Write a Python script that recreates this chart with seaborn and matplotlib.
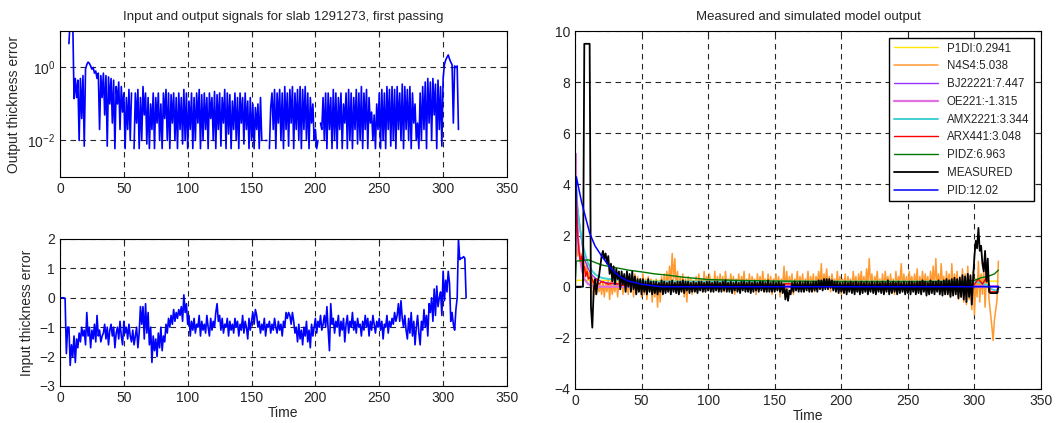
"""Senales de espesor: entrada, salida y comparacion de modelos."""

import matplotlib

matplotlib.use("Agg")
import matplotlib.pyplot as plt
import numpy as np
import seaborn as sns

# --- datos (un valor por unidad de tiempo) ---
input_err = [
    0, 0, 0, 0, -0.02, -1.9, -1.0, -1.0, -2.3, -1.6,
    -2.0, -1.3, -2.2, -1.4, -1.7, -1.2, -1.5, -1.0, -1.3, -1.1,
    -1.6, -0.5, -1.3, -1.0, -1.7, -1.1, -1.4, -0.9, -1.5, -0.6,
    -1.3, -1.1, -1.5, -1.3, -1.2, -0.9, -1.4, -1.0, -1.6, -1.1,
    -0.9, -1.3, -1.0, -1.7, -1.2, -1.0, -1.4, -0.8, -1.3, -1.6,
    -0.8, -1.2, -1.0, -1.4, -0.9, -1.3, -1.5, -1.1, -1.6, -1.3,
    -1.0, -1.7, -1.2, -0.3, -0.9, -0.3, -1.4, -0.2, -1.2, -0.5,
    -1.6, -1.0, -2.2, -1.3, -1.8, -1.4, -2.0, -1.2, -1.7, -1.0,
    -1.8, -1.3, -1.5, -0.9, -1.2, -0.7, -1.0, -0.6, -0.9, -0.4,
    -0.8, -0.5, -0.7, -0.4, -0.6, -0.3, -0.8, 0.1, -0.5, -0.2,
    -0.9, -0.6, -1.3, -0.8, -1.1, -0.7, -1.2, -0.9, -1.0, -0.6,
    -1.3, -0.8, -1.1, -0.9, -1.2, -0.6, -1.0, -1.3, -0.7, -1.1,
    -0.8, -1.0, -0.5, -0.2, -0.8, -0.6, -1.1, -0.7, -1.2, -0.9,
    -1.0, -0.7, -1.3, -0.8, -1.1, -0.9, -1.2, -0.7, -1.0, -0.8,
    -1.3, -0.9, -1.1, -0.6, -1.2, -0.8, -1.0, -1.4, -0.7, -1.1,
    -0.8, -0.5, -0.9, -0.4, -0.6, -1.0, -0.8, -1.2, -0.9, -1.1,
    -0.7, -1.3, -0.9, -1.0, -0.8, -1.2, -0.9, -1.1, -0.7, -1.0,
    -1.2, -0.8, -1.1, -0.9, -1.3, -0.8, -1.0, -0.5, -0.7, -0.5,
    -0.6, -0.9, -0.5, -0.8, -1.2, -1.0, -1.5, -0.9, -1.4, -1.1,
    -1.6, -1.0, -1.3, -0.8, -1.5, -1.1, -1.7, -0.9, -1.3, -1.0,
    -0.7, -1.2, -0.8, -1.0, -0.6, -1.1, -0.9, -0.6, -1.0, -0.3,
    -1.1, -1.8, -0.2, -0.9, -0.7, -1.2, -0.8, -1.0, -0.6, -1.3,
    -0.8, -1.1, -0.7, -1.5, -0.9, -0.6, -1.2, -0.8, -1.0, -0.5,
    -1.1, -0.8, -1.2, -0.7, -1.0, -0.9, -1.3, -0.8, -1.1, -0.6,
    -1.0, -0.7, -1.3, -0.8, -1.1, -0.6, -0.9, -1.2, -0.8, -1.0,
    -0.7, -1.1, -0.8, -1.4, -0.9, -1.0, -0.6, -1.2, -0.8, -1.0,
    -0.7, -0.9, -0.5, -0.8, -0.6, -0.2, -0.8, -0.1, -0.7, -1.0,
    -0.6, -1.1, -1.4, -0.7, -1.2, -0.5, -1.3, -0.8, -1.6, -1.0,
    -0.6, -1.2, -1.6, -0.8, -1.1, -0.4, -1.0, -0.6, -1.3, -0.2,
    -0.5, 0.0, -0.8, 0.3, -0.6, 0.4, -0.3, 0.0, 0.2, -0.6,
    0.9, -0.1, 0.6, 0.2, 0.9, 0.5, -0.8, -0.5, -0.9, -1.1,
    -0.4, 0.0, 2.0, 1.3, 1.35, 1.35, 1.4, 1.35, 0.0,
]

# valor absoluto del error de salida (0 = fuera de la escala log)
output_err = [
    0, 0, 0, 0, 0, 0, 0, 4.5, 20, 20,
    20, 0.14, 0.5, 0.15, 0.45, 0.01, 0.5, 0.04, 0.6, 0.007,
    0.9, 1.2, 1.4, 1.3, 1.1, 0.9, 1.0, 0.7, 0.8, 0.5,
    0.7, 0.02, 0.6, 0.15, 0.7, 0.05, 0.6, 0.007, 0.55, 0.1,
    0.5, 0.03, 0.45, 0.006, 0.3, 0.1, 0.4, 0.02, 0.3, 0.06,
    0.2, 0.006, 0.15, 0.02, 0.25, 0.01, 0.2, 0, 0.006, 0.2,
    0.03, 0.25, 0.006, 0.15, 0.01, 0.3, 0.05, 0.2, 0.008, 0.15,
    0.006, 0.1, 0.02, 0.2, 0.006, 0.15, 0.03, 0.2, 0.01, 0.1,
    0.006, 0.2, 0.04, 0.25, 0.01, 0.2, 0.006, 0.18, 0.03, 0.2,
    0.01, 0.15, 0.006, 0.2, 0.02, 0.15, 0.008, 0.25, 0.01, 0.2,
    0.006, 0.12, 0.02, 0.2, 0.006, 0.15, 0.01, 0.2, 0.03, 0.25,
    0.006, 0.18, 0.01, 0.2, 0.02, 0.15, 0.006, 0.2, 0.04, 0.15,
    0.01, 0.22, 0.006, 0.18, 0.02, 0.2, 0.007, 0.15, 0.03, 0.25,
    0.006, 0.2, 0.015, 0.18, 0.006, 0.12, 0.02, 0.2, 0.01, 0.15,
    0.006, 0.2, 0.03, 0.15, 0.008, 0.2, 0.02, 0.12, 0.006, 0.15,
    0.01, 0.1, 0.006, 0.08, 0.02, 0.1, 0.006, 0.15, 0.01, 0,
    0, 0.01, 0.01, 0, 0.006, 0.08, 0.2, 0.02, 0.25, 0.006,
    0.2, 0.03, 0.25, 0.01, 0.2, 0.006, 0.3, 0.02, 0.2, 0.007,
    0.25, 0.03, 0.3, 0.006, 0.2, 0.02, 0.25, 0.01, 0.3, 0.006,
    0.25, 0.02, 0.3, 0.01, 0.2, 0.006, 0.15, 0.03, 0.1, 0.01,
    0.02, 0.006, 0.01, 0, 0.03, 0.02, 0.15, 0.01, 0.2, 0.006,
    0.2, 0.02, 0.15, 0.006, 0.25, 0.01, 0.2, 0.006, 0.15, 0.02,
    0.2, 0.006, 0.1, 0.03, 0.2, 0.006, 0.25, 0.01, 0.2, 0.006,
    0.15, 0.02, 0.25, 0.008, 0.2, 0.01, 0.3, 0.006, 0.2, 0.02,
    0.25, 0.006, 0.15, 0.03, 0.06, 0.01, 0.05, 0.006, 0.1, 0.02,
    0.2, 0.006, 0.25, 0.01, 0.2, 0.006, 0.3, 0.02, 0.25, 0.007,
    0.3, 0.01, 0.25, 0.006, 0.3, 0.02, 0.2, 0.01, 0.35, 0.006,
    0.3, 0.02, 0.25, 0.01, 0.3, 0.006, 0.2, 0.03, 0.1, 0.01,
    0.03, 0.006, 0.2, 0.01, 0.3, 0.02, 0.4, 0.006, 0.5, 0.03,
    0.4, 0.01, 0.5, 0.05, 0.35, 0.006, 0.45, 0.02, 0.3, 0.007,
    0.5, 1.2, 1.6, 1.9, 2.2, 1.7, 1.4, 1.2, 0.03, 1.1,
    1.0, 1.1, 0.02,
]

measured = [
    0, 0, 0, 0, 0, 0, 0, 9.5, 9.5, 9.5,
    9.5, 9.5, -0.8, -1.6, -0.2, 0.3, -0.3, 0.2, 0.4, 0.8,
    1.2, 1.4, 1.1, 1.3, 0.9, 1.2, 0.5, 0.9, 0.2, 0.8,
    0.1, 0.7, 0.3, 0.6, -0.1, 0.6, 0.1, 0.5, -0.2, 0.6,
    0.0, 0.5, -0.2, 0.6, -0.1, 0.4, -0.3, 0.3, -0.2, 0.3,
    -0.3, 0.3, -0.2, 0.2, -0.3, 0.3, -0.2, 0.2, -0.3, 0.2,
    -0.25, 0.2, -0.3, 0.15, -0.2, 0.25, -0.3, 0.2, -0.25, 0.15,
    -0.2, 0.2, -0.3, 0.25, -0.2, 0.15, -0.25, 0.2, -0.3, 0.2,
    -0.2, 0.25, -0.25, 0.2, -0.15, 0.2, -0.25, 0.15, -0.2, 0.2,
    -0.2, 0.15, -0.25, 0.2, -0.15, 0.2, -0.2, 0.15, -0.2, 0.2,
    -0.15, 0.2, -0.2, 0.15, -0.2, 0.2, -0.15, 0.2, -0.2, 0.15,
    -0.2, 0.2, -0.15, 0.25, -0.2, 0.15, -0.2, 0.2, -0.25, 0.15,
    -0.15, 0.2, -0.2, 0.15, -0.25, 0.2, -0.15, 0.2, -0.2, 0.15,
    -0.2, 0.2, -0.25, 0.15, -0.2, 0.2, -0.15, 0.15, -0.2, 0.2,
    -0.15, 0.2, -0.2, 0.15, -0.2, 0.25, -0.2, 0.15, -0.2, 0.2,
    -0.2, 0.15, -0.15, 0.2, -0.2, 0.15, -0.25, 0.1, -0.5, -0.1,
    -0.55, -0.15, -0.3, 0.15, -0.2, 0.2, -0.15, 0.15, -0.2, 0.2,
    -0.2, 0.15, -0.2, 0.2, -0.15, 0.2, -0.2, 0.15, -0.2, 0.2,
    -0.15, 0.2, -0.2, 0.25, -0.1, 0.25, -0.15, 0.3, -0.1, 0.3,
    -0.1, 0.3, -0.05, 0.25, -0.15, 0.2, -0.2, 0.2, -0.25, 0.15,
    -0.2, 0.15, -0.25, 0.2, -0.3, 0.15, -0.2, 0.2, -0.25, 0.15,
    -0.3, 0.2, -0.2, 0.15, -0.3, 0.2, -0.25, 0.15, -0.2, 0.2,
    -0.3, 0.15, -0.2, 0.2, -0.25, 0.15, -0.3, 0.2, -0.2, 0.15,
    -0.25, 0.2, -0.3, 0.15, -0.2, 0.25, -0.3, 0.15, -0.25, 0.2,
    -0.2, 0.15, -0.3, 0.2, -0.25, 0.15, -0.2, 0.2, -0.3, 0.15,
    -0.25, 0.2, -0.3, 0.2, -0.2, 0.15, -0.3, 0.2, -0.25, 0.2,
    -0.3, 0.25, -0.2, 0.2, -0.35, 0.15, -0.3, 0.25, -0.25, 0.2,
    -0.3, 0.2, -0.2, 0.25, -0.3, 0.2, -0.35, 0.25, -0.3, 0.3,
    -0.3, 0.25, -0.4, 0.3, -0.35, 0.35, -0.3, 0.3, -0.45, 0.35,
    -0.4, 0.45, -0.5, 0.4, -0.6, 0.5, -0.4, 0.45, -0.7, 0.3,
    1.2, 1.8, 1.5, 2.3, 1.4, 1.6, 0.9, 0.6, 1.4, 0.2,
    1.1, -0.2, -0.25, -0.25, -0.25, -0.25, -0.25, -0.25, 0.0,
]

n4s4 = [
    0, 1.8, 1.2, 1.6, 1.0, 1.3, 0.7, 1.0, 0.4, 0.9,
    0.3, 0.6, -0.2, 0.4, -0.4, 0.2, -0.3, 0.3, -0.2, 0.1,
    -0.3, 0.2, -0.4, 0.1, -0.2, 0.3, -0.5, 0.2, -0.3, 0.1,
    -0.2, 0.3, -0.4, 0.2, -0.1, 0.4, -0.3, 0.3, -0.2, 0.2,
    -0.3, 0.4, -0.2, 0.3, -0.4, 0.5, -0.3, 0.4, -0.2, 0.3,
    -0.4, 0.5, -0.3, 0.3, -0.5, 0.4, -0.2, 0.3, -0.6, 0.2,
    -0.4, 0.3, -0.8, 0.2, -0.6, 0.4, -0.3, 0.5, -0.2, 0.6,
    -0.1, 0.8, 0.2, 1.3, 0.3, 1.1, -0.1, 0.6, -0.3, 0.4,
    -0.2, 0.5, -0.4, 0.3, -0.6, 0.4, -0.1, 0.3, -0.3, 0.2,
    -0.1, 0.4, -0.2, 0.5, 0.0, 0.3, -0.2, 0.6, 0.0, 0.4,
    -0.1, 0.5, 0.1, 0.3, -0.2, 0.6, 0.0, 0.4, -0.1, 0.5,
    0.0, 0.4, -0.2, 0.6, 0.1, 0.3, -0.1, 0.5, 0.0, 0.4,
    -0.3, 0.3, 0.0, 0.5, -0.2, 0.4, 0.1, 0.6, -0.1, 0.3,
    0.0, 0.5, -0.2, 0.4, 0.1, 0.3, -0.3, 0.5, 0.0, 0.4,
    -0.1, 0.6, 0.1, 0.3, -0.2, 0.5, 0.0, 0.4, -0.3, 0.3,
    0.1, 0.5, -0.1, 0.4, -0.4, 0.3, 0.0, 0.8, -0.2, 0.6,
    -0.1, 0.4, 0.0, 0.5, -0.3, 0.3, 0.1, 0.6, -0.1, 0.4,
    0.0, 0.5, -0.2, 0.3, 0.1, 0.6, -0.1, 0.4, 0.0, 0.5,
    -0.2, 0.4, 0.1, 0.6, 0.0, 0.9, -0.1, 0.5, 0.1, 0.7,
    0.0, 0.4, -0.2, 0.5, 0.1, 0.3, -0.1, 0.6, 0.0, 0.4,
    -0.3, 0.3, 0.0, 0.5, -0.2, 0.4, 0.1, 0.3, -0.1, 0.6,
    0.0, 0.4, -0.2, 0.5, 0.1, 0.6, 0.0, 0.4, -0.1, 0.7,
    0.1, 1.1, 0.0, 0.5, -0.2, 0.4, 0.1, 0.6, -0.1, 0.3,
    0.0, 0.5, -0.2, 0.6, 0.1, 0.4, -0.1, 0.5, 0.0, 0.3,
    -0.3, 0.6, 0.0, 0.4, 0.1, 0.9, -0.1, 0.5, 0.0, 0.4,
    -0.2, 0.6, 0.1, 0.4, -0.1, 0.5, 0.0, 0.7, -0.2, 0.4,
    0.0, 0.6, -0.1, 0.5, 0.1, 0.4, -0.3, 0.6, 0.0, 0.8,
    -0.1, 1.1, 0.0, 0.5, -0.2, 0.9, 0.1, 0.4, -0.3, 0.6,
    0.0, 0.5, -0.4, 0.9, -0.2, 0.5, 0.0, 0.6, -0.5, 0.4,
    -0.4, 0.7, -0.6, 0.5, -0.7, 0.8, -0.5, 0.4, -0.9, 0.6,
    -1.1, 0.3, -0.4, 1.0, -0.6, 0.5, -0.3, 0.7, -0.8, 0.4,
    0.5, -0.5, -1.0, -1.5, -2.1, -1.3, -0.9, -0.5, 1.0,
]

# modelos suaves: puntos clave
p1di_time = [0, 1, 318]
p1di_vals = [0, 0.25, 0.22]

bj_time = [0, 1, 3, 5, 7, 10, 13, 16, 20, 25, 30, 50, 100, 318]
bj_vals = [0, 3.5, 2.6, 1.8, 1.1, 0.7, 0.45, 0.3, 0.2, 0.15, 0.1, 0.05, 0.03, 0.03]

oe_time = [0, 0.5, 1, 2, 3, 5, 7, 10, 15, 318]
oe_vals = [0, 5.2, 3.5, 2.2, 1.4, 0.7, 0.3, 0.1, 0.0, 0.0]

amx_time = [0, 1, 2, 4, 6, 8, 10, 13, 16, 20, 25, 30, 40, 50, 60, 80, 100,
            150, 200, 250, 300, 305, 310, 313, 316, 318]
amx_vals = [0, 3.8, 3.0, 2.2, 1.6, 1.2, 0.9, 0.6, 0.45, 0.35, 0.3, 0.28, 0.25,
            0.22, 0.2, 0.2, 0.2, 0.2, 0.2, 0.2, 0.2, 0.15, 0.05, -0.1, -0.15, -0.1]

arx_time = [0, 1, 2, 3, 4, 5, 6, 7, 8, 9, 10, 12, 14, 16, 18, 20, 25, 30, 35, 40,
            50, 60, 70, 80, 90, 100, 110, 120, 130, 140, 150, 160, 170, 180, 190,
            200, 210, 220, 230, 240, 250, 260, 270, 280, 290, 300,
            303, 306, 309, 311, 312, 318]
arx_vals = [-0.4, 3.8, 2.0, 1.4, 1.0, 1.2, 0.6, 0.8, 0.4, 0.6, 0.3, 0.4, 0.15, 0.3,
            0.1, 0.2, 0.1, 0.15, 0.05, 0.1,
            0.05, 0.08, 0.05, 0.1, 0.05, 0.08, 0.1, 0.05, 0.08, 0.1, 0.05, 0.12,
            0.05, 0.08, 0.1, 0.05, 0.15, 0.05, 0.1, 0.12, 0.05, 0.15, 0.08, 0.12,
            0.05, 0.1,
            0.3, 0.1, 0.35, 0.1, -0.2, -0.2]

pidz_time = [0, 1, 10, 15, 20, 30, 40, 50, 60, 70, 80, 90, 100, 120, 150, 200,
             250, 295, 300, 305, 310, 315, 318]
pidz_vals = [0, 1.0, 1.05, 0.95, 0.85, 0.75, 0.65, 0.58, 0.5, 0.45, 0.38, 0.33,
             0.28, 0.25, 0.22, 0.2, 0.2, 0.2, 0.25, 0.35, 0.4, 0.5, 0.65]

pid_time = [0, 1, 3, 5, 8, 11, 15, 20, 25, 30, 35, 40, 50, 60, 65, 318]
pid_vals = [0, 4.3, 3.8, 3.3, 2.7, 2.1, 1.6, 1.2, 0.85, 0.55, 0.35, 0.22, 0.1,
            0.03, 0, 0]

model_labels = ["P1DI:0.2941", "N4S4:5.038", "BJ22221:7.447", "OE221:-1.315",
                "AMX2221:3.344", "ARX441:3.048", "PIDZ:6.963", "MEASURED",
                "PID:12.02"]

time_ticks = [0, 50, 100, 150, 200, 250, 300, 350]


def style_axis(ax):
    ax.set_xlim(0, 350)
    ax.set_xticks(time_ticks)
    ax.grid(True, color="0.15", linestyle=(0, (5, 4)), linewidth=0.8)
    ax.tick_params(direction="in", length=3, top=True, right=True, labelsize=10)
    for spine in ax.spines.values():
        spine.set_color("black")
        spine.set_linewidth(0.8)


sns.set_style("white")
plt.rcParams["font.family"] = ["Liberation Sans", "DejaVu Sans"]

fig = plt.figure(figsize=(10.56, 4.23), dpi=100)
ax_out = fig.add_axes([0.0568, 0.5816, 0.4233, 0.3452])
ax_in = fig.add_axes([0.0568, 0.0875, 0.4233, 0.3475])
ax_mod = fig.add_axes([0.5445, 0.0804, 0.4413, 0.8463])

# salida (escala logaritmica, los ceros quedan como huecos)
out_arr = np.array(output_err, dtype=float)
out_arr[out_arr <= 0] = np.nan
ax_out.plot(np.arange(len(out_arr)), out_arr, color="blue", linewidth=1.2)
ax_out.set_yscale("log")
ax_out.set_ylim(1e-3, 1e1)
ax_out.set_yticks([1e-2, 1e0])
ax_out.yaxis.set_minor_locator(matplotlib.ticker.NullLocator())
style_axis(ax_out)
ax_out.set_ylabel("Output thickness error", fontsize=10)
ax_out.set_title("Input and output signals for slab 1291273, first passing",
                 fontsize=9.5, pad=8)

# entrada
sns.lineplot(x=np.arange(len(input_err)), y=input_err, ax=ax_in, color="blue",
             linewidth=1.2, estimator=None, sort=False)
ax_in.set_ylim(-3, 2)
ax_in.set_yticks([-3, -2, -1, 0, 1, 2])
style_axis(ax_in)
ax_in.set_ylabel("Input thickness error", fontsize=10)
ax_in.set_xlabel("Time", fontsize=10, labelpad=1)

# modelos vs medido
series = [
    (p1di_time, p1di_vals, "#ffe800", 1.0),
    (np.arange(len(n4s4)), n4s4, "#ff9a30", 1.1),
    (bj_time, bj_vals, "#9933ff", 1.0),
    (oe_time, oe_vals, "#e070e0", 1.6),
    (amx_time, amx_vals, "#40d0d0", 1.4),
    (arx_time, arx_vals, "red", 1.0),
    (pidz_time, pidz_vals, "#007700", 1.0),
    (np.arange(len(measured)), measured, "black", 1.3),
    (pid_time, pid_vals, "blue", 1.1),
]
handles = []
for (t, v, color, lw), label in zip(series, model_labels):
    sns.lineplot(x=t, y=v, ax=ax_mod, color=color, linewidth=lw,
                 estimator=None, sort=False)
    handles.append(ax_mod.lines[-1])
ax_mod.set_ylim(-4, 10)
ax_mod.set_yticks([-4, -2, 0, 2, 4, 6, 8, 10])
style_axis(ax_mod)
ax_mod.set_xlabel("Time", fontsize=10, labelpad=1)
ax_mod.set_title("Measured and simulated model output", fontsize=9.5, pad=8)

leg = ax_mod.legend(handles, model_labels, loc="upper right", fontsize=8.3,
                    handlelength=3.8, labelspacing=0.5, fancybox=False,
                    framealpha=1, edgecolor="black", borderaxespad=0.6)
leg.get_frame().set_linewidth(1.0)

fig.savefig("out.png", dpi=100)
